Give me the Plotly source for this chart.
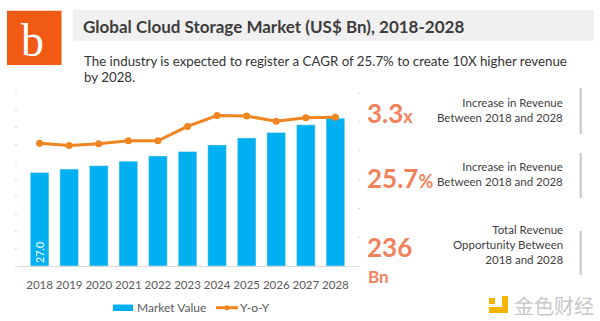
import plotly.graph_objects as go

years = ["2018", "2019", "2020", "2021", "2022", "2023", "2024", "2025", "2026", "2027", "2028"]
market_value = [27.0, 28.0, 29.0, 30.3, 31.8, 33.1, 35.0, 37.0, 38.6, 40.8, 42.7]
yoy = [21.3, 20.9, 21.2, 21.7, 21.7, 24.2, 26.1, 26.0, 25.1, 25.7, 25.8]

title = "Global Cloud Storage Market (US$ Bn), 2018-2028"
subtitle1 = "The industry is expected to register a CAGR of 25.7% to create 10X higher revenue"
subtitle2 = "by 2028."
kpi_values = ["3.3", "25.7", "236"]
kpi_units = ["x", "%", "Bn"]
kpi_texts = ["Increase in Revenue<br>Between 2018 and 2028",
             "Increase in Revenue<br>Between 2018 and 2028",
             "Total Revenue<br>Opportunity Between<br>2018 and 2028"]

W, H = 600, 321
def px(x): return x / W
def py(y): return 1 - y / H

BLUE = "#00B0F0"
ORANGE = "#F0841F"
KPI = "#F2825A"
FONT = "Lato"

fig = go.Figure()
fig.add_trace(go.Bar(
    x=years, y=market_value, marker_color=BLUE, name="Market Value",
    text=[f"{v:.1f}" if i == 0 else "" for i, v in enumerate(market_value)],
    textposition="inside", insidetextanchor="start", textangle=-90,
    textfont=dict(color="white", size=11, family=FONT),
    showlegend=False, yaxis="y"))
fig.add_trace(go.Scatter(
    x=years, y=yoy, mode="lines+markers", name="Y-o-Y",
    line=dict(color=ORANGE, width=3), marker=dict(size=7, color=ORANGE),
    showlegend=False, yaxis="y2"))

shapes = []
annotations = []

# logo
shapes.append(dict(type="rect", xref="paper", yref="paper", x0=px(7), x1=px(61.5), y0=py(65), y1=py(10.7),
                   fillcolor="#F05A14", line_width=0, layer="above"))
annotations.append(dict(x=px(32), y=py(40), xref="paper", yref="paper", text="b", showarrow=False,
                        font=dict(family="Liberation Serif", size=46, color="white"), xanchor="center", yanchor="middle"))
# title bar
shapes.append(dict(type="rect", xref="paper", yref="paper", x0=px(72.7), x1=px(594), y0=py(40.7), y1=py(10),
                   fillcolor="#F0F0F0", line_width=0, layer="below"))
annotations.append(dict(x=px(80.5), y=py(26), xref="paper", yref="paper", text="<b>" + title + "</b>",
                        showarrow=False, xanchor="left", yanchor="middle",
                        font=dict(family=FONT, size=17, color="#3C3C3C")))
annotations.append(dict(x=px(81.5), y=py(61), xref="paper", yref="paper", text=subtitle1,
                        showarrow=False, xanchor="left", yanchor="middle",
                        font=dict(family=FONT, size=13.3, color="#333333")))
annotations.append(dict(x=px(81.5), y=py(77), xref="paper", yref="paper", text=subtitle2,
                        showarrow=False, xanchor="left", yanchor="middle",
                        font=dict(family=FONT, size=13.3, color="#333333")))

# KPI panel
kpi_y = [113, 178, 246.5]
kpi_txt_y = [110, 173.5, 244]
bars_y = [(88, 134), (153, 198), (231, 275)]
unit_sizes = [18, 18, 17]
for i in range(3):
    if i < 2:
        t = f"<b>{kpi_values[i]}<span style='font-size:{unit_sizes[i]}px'>{kpi_units[i]}</span></b>"
        annotations.append(dict(x=px(365), y=py(kpi_y[i]), xref="paper", yref="paper", text=t,
                                showarrow=False, xanchor="left", yanchor="middle",
                                font=dict(family=FONT, size=26, color=KPI)))
    else:
        annotations.append(dict(x=px(365), y=py(kpi_y[i]), xref="paper", yref="paper",
                                text=f"<b>{kpi_values[i]}</b>",
                                showarrow=False, xanchor="left", yanchor="middle",
                                font=dict(family=FONT, size=26, color=KPI)))
        annotations.append(dict(x=px(365.5), y=py(276.5), xref="paper", yref="paper",
                                text=f"<b>{kpi_units[i]}</b>",
                                showarrow=False, xanchor="left", yanchor="middle",
                                font=dict(family=FONT, size=17, color=KPI)))
    annotations.append(dict(x=px(564.5), y=py(kpi_txt_y[i]), xref="paper", yref="paper", text=kpi_texts[i],
                            showarrow=False, xanchor="right", yanchor="middle", align="right",
                            font=dict(family=FONT, size=11.5, color="#404040")))
    shapes.append(dict(type="rect", xref="paper", yref="paper", x0=px(579.5), x1=px(582),
                       y0=py(bars_y[i][1]), y1=py(bars_y[i][0]), fillcolor="#D0D0D0", line_width=0))

# legend (manual)
shapes.append(dict(type="rect", xref="paper", yref="paper", x0=px(113), x1=px(133), y0=py(311), y1=py(304.5),
                   fillcolor=BLUE, line_width=0))
annotations.append(dict(x=px(134.5), y=py(307.7), xref="paper", yref="paper", text="Market Value",
                        showarrow=False, xanchor="left", yanchor="middle",
                        font=dict(family=FONT, size=12, color="#595959")))
shapes.append(dict(type="line", xref="paper", yref="paper", x0=px(216), x1=px(238), y0=py(307.7), y1=py(307.7),
                   line=dict(color=ORANGE, width=3)))
shapes.append(dict(type="circle", xref="paper", yref="paper", x0=px(224.5), x1=px(229.5), y0=py(310.2), y1=py(305.2),
                   fillcolor=ORANGE, line_width=0))
annotations.append(dict(x=px(238), y=py(307.7), xref="paper", yref="paper", text="Y-o-Y",
                        showarrow=False, xanchor="left", yanchor="middle",
                        font=dict(family=FONT, size=12, color="#595959")))

# watermark
shapes.append(dict(type="rect", xref="paper", yref="paper", x0=px(489), x1=px(495), y0=py(304), y1=py(298),
                   fillcolor="#F5B400", line_width=0))
shapes.append(dict(type="rect", xref="paper", yref="paper", x0=px(489), x1=px(508), y0=py(313), y1=py(307),
                   fillcolor="#F5B400", line_width=0))
shapes.append(dict(type="rect", xref="paper", yref="paper", x0=px(502), x1=px(508), y0=py(313), y1=py(296),
                   fillcolor="#F5B400", line_width=0))
annotations.append(dict(x=px(512), y=py(305), xref="paper", yref="paper", text="金色财经",
                        showarrow=False, xanchor="left", yanchor="middle",
                        font=dict(family="Noto Sans CJK SC", size=20, color="#C8C8C8")))

fig.update_layout(
    width=W, height=H, margin=dict(l=0, r=0, t=0, b=0),
    paper_bgcolor="white", plot_bgcolor="white",
    font=dict(family=FONT),
    bargap=0.37, showlegend=False,
    xaxis=dict(domain=[px(18.3), px(356.7)], showline=True, linecolor="#D9D9D9", linewidth=1,
               tickfont=dict(size=11.5, color="#595959", family=FONT), ticks="", ticklabelstandoff=8,
               showgrid=False, fixedrange=True),
    yaxis=dict(domain=[py(266), py(93)], range=[0, 50], dtick=5, showgrid=False, showticklabels=False,
               ticks="outside", ticklen=2, tickcolor="#D9D9D9", zeroline=False),
    yaxis2=dict(domain=[py(266), py(93)], range=[0, 30], dtick=5, overlaying="y", side="right",
                showgrid=False, showticklabels=False, ticks="outside", ticklen=2, tickcolor="#D9D9D9",
                zeroline=False),
    shapes=shapes, annotations=annotations,
)
fig.write_html("out.html")
